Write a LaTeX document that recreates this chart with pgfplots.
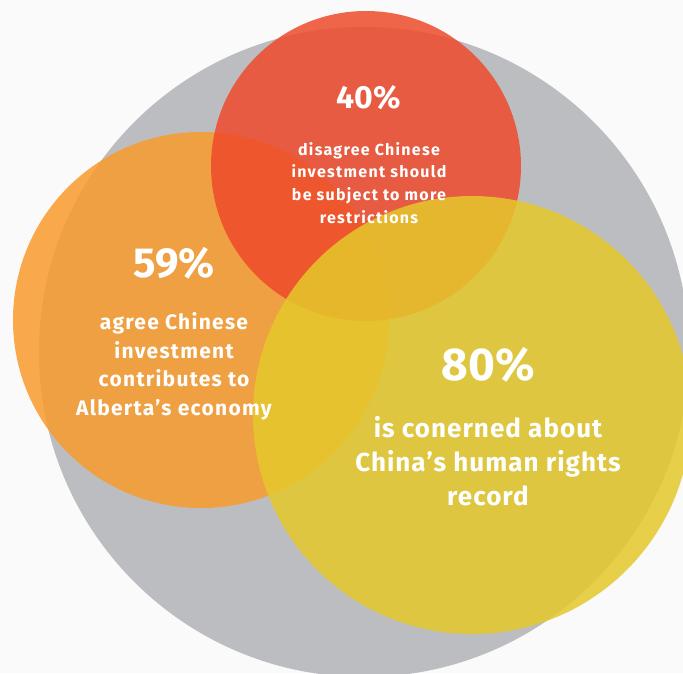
\documentclass[border=0pt]{standalone}
\usepackage{pgfplots}
\pgfplotsset{compat=1.18}
\usepackage{fontspec}
\setmainfont{Fira Sans}
\newfontfamily\lsA[LetterSpace=4]{Fira Sans}
\newfontfamily\lsB[LetterSpace=6]{Fira Sans}
\newfontfamily\lsC[LetterSpace=8]{Fira Sans}
\definecolor{bgc}{RGB}{250,250,250}
\definecolor{grayc}{RGB}{188,189,192}
\definecolor{redc}{RGB}{238,75,43}
\definecolor{orangec}{RGB}{249,155,45}
\definecolor{yellowc}{RGB}{229,200,43}
\tikzset{txt/.style={anchor=base, text=white, inner sep=0pt}}
\begin{document}
\begin{tikzpicture}
\begin{axis}[
  x=1pt, y=1pt, xmin=0, xmax=683, ymin=0, ymax=673, y dir=reverse,
  axis lines=none, ticks=none,
  axis background/.style={fill=bgc},
  clip marker paths=true,
]
% circles: centre (x,y) in pixels, radius as mark size
\addplot[only marks, mark=*, color=grayc, mark size=325pt, mark options={draw=none, draw opacity=0, fill=grayc}] coordinates {(364,352)};
\addplot[only marks, mark=*, color=orangec, mark size=188pt, mark options={draw=none, draw opacity=0, fill=orangec, fill opacity=0.85}] coordinates {(201,320)};
\addplot[only marks, mark=*, color=redc, mark size=155pt, mark options={draw=none, draw opacity=0, fill=redc, fill opacity=0.85}] coordinates {(366,166)};
\addplot[only marks, mark=*, color=yellowc, mark size=219pt, mark options={draw=none, draw opacity=0, fill=yellowc, fill opacity=0.85}] coordinates {(472,415)};

\node[txt, font=\bfseries\fontsize{32}{32}\selectfont] at (axis cs:368.5,108) {40\%};
\node[txt, font=\lsC\bfseries\fontsize{16}{16}\selectfont] at (axis cs:369,155) {disagree Chinese};
\node[txt, font=\lsC\bfseries\fontsize{16}{16}\selectfont] at (axis cs:369,177.5) {investment should};
\node[txt, font=\lsC\bfseries\fontsize{16}{16}\selectfont] at (axis cs:369,200) {be subject to more};
\node[txt, font=\lsC\bfseries\fontsize{16}{16}\selectfont] at (axis cs:369,223) {restrictions};

\node[txt, font=\bfseries\fontsize{42}{42}\selectfont] at (axis cs:174,277) {59\%};
\node[txt, font=\lsB\bfseries\fontsize{21}{21}\selectfont] at (axis cs:174,329) {agree Chinese};
\node[txt, font=\lsB\bfseries\fontsize{21}{21}\selectfont] at (axis cs:174,358) {investment};
\node[txt, font=\lsB\bfseries\fontsize{21}{21}\selectfont] at (axis cs:174,386.5) {contributes to};
\node[txt, font=\lsB\bfseries\fontsize{21}{21}\selectfont] at (axis cs:174,415) {Alberta’s economy};

\node[txt, font=\bfseries\fontsize{46}{46}\selectfont] at (axis cs:488,380) {80\%};
\node[txt, font=\lsA\bfseries\fontsize{26}{26}\selectfont] at (axis cs:488,437) {is conerned about};
\node[txt, font=\lsA\bfseries\fontsize{26}{26}\selectfont] at (axis cs:488,471.5) {China’s human rights};
\node[txt, font=\lsA\bfseries\fontsize{26}{26}\selectfont] at (axis cs:488,505) {record};
\end{axis}
\pgfresetboundingbox
\path[use as bounding box] (current axis.south west) rectangle (current axis.north east);
\end{tikzpicture}
\end{document}
